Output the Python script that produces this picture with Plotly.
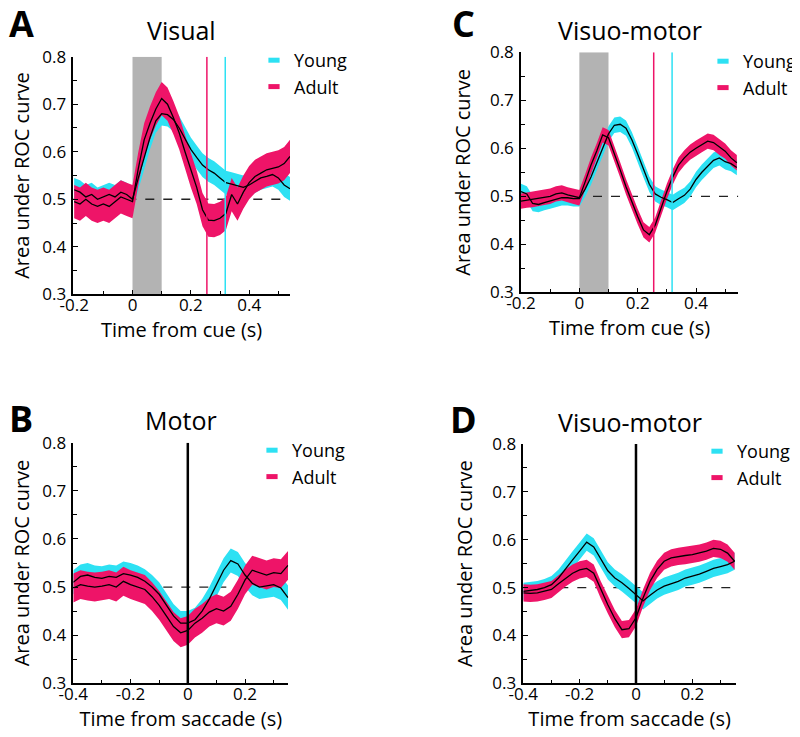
import plotly.graph_objects as go

# ---------------- data ----------------
# Panel A: Visual, aligned on cue
t_cue = [-0.20, -0.18, -0.16, -0.14, -0.12, -0.10, -0.08, -0.06, -0.04, -0.02,
         0.00, 0.02, 0.04, 0.06, 0.08, 0.10, 0.12, 0.14, 0.16, 0.18,
         0.20, 0.22, 0.24, 0.26, 0.28, 0.30, 0.32, 0.34, 0.36, 0.38,
         0.40, 0.42, 0.44, 0.46, 0.48, 0.50, 0.52, 0.54]
a_young = [0.520, 0.515, 0.505, 0.510, 0.500, 0.505, 0.510, 0.505, 0.515, 0.510,
           0.500, 0.545, 0.590, 0.630, 0.665, 0.680, 0.678, 0.668, 0.650, 0.628,
           0.605, 0.588, 0.572, 0.562, 0.555, 0.545, 0.535, 0.532, 0.528, 0.525,
           0.530, 0.538, 0.545, 0.548, 0.552, 0.545, 0.530, 0.522]
a_adult = [0.495, 0.490, 0.500, 0.490, 0.485, 0.490, 0.485, 0.495, 0.505, 0.500,
           0.495, 0.565, 0.625, 0.660, 0.690, 0.712, 0.700, 0.672, 0.640, 0.600,
           0.560, 0.525, 0.478, 0.456, 0.455, 0.460, 0.470, 0.510, 0.490, 0.515,
           0.535, 0.548, 0.555, 0.562, 0.565, 0.568, 0.575, 0.590]
a_young_sem = 0.025
a_adult_sem = 0.035

# Panel C: Visuo-motor, aligned on cue
c_young = [0.510, 0.505, 0.485, 0.483, 0.487, 0.490, 0.493, 0.497, 0.497, 0.495,
           0.495, 0.515, 0.540, 0.570, 0.600, 0.630, 0.648, 0.650, 0.642, 0.618,
           0.588, 0.555, 0.525, 0.505, 0.498, 0.493, 0.487, 0.495, 0.502, 0.515,
           0.535, 0.550, 0.563, 0.575, 0.580, 0.572, 0.568, 0.560]
c_adult = [0.490, 0.492, 0.493, 0.495, 0.498, 0.500, 0.505, 0.507, 0.503, 0.500,
           0.497, 0.530, 0.565, 0.595, 0.628, 0.622, 0.590, 0.555, 0.520, 0.488,
           0.458, 0.430, 0.420, 0.440, 0.475, 0.510, 0.540, 0.565, 0.580, 0.592,
           0.600, 0.608, 0.615, 0.612, 0.602, 0.594, 0.580, 0.570]
c_young_sem = 0.016
c_adult_sem = 0.016

# Panels B and D aligned on saccade
t_sac = [-0.400, -0.375, -0.350, -0.325, -0.300, -0.275, -0.250, -0.225, -0.200, -0.175,
         -0.150, -0.125, -0.100, -0.075, -0.050, -0.025, 0.000, 0.025, 0.050, 0.075,
         0.100, 0.125, 0.150, 0.175, 0.200, 0.225, 0.250, 0.275, 0.300, 0.325, 0.350]
b_young = [0.510, 0.522, 0.525, 0.520, 0.518, 0.522, 0.520, 0.528, 0.525, 0.520,
           0.512, 0.500, 0.485, 0.462, 0.440, 0.425, 0.425, 0.432, 0.450, 0.475,
           0.505, 0.535, 0.555, 0.548, 0.525, 0.508, 0.500, 0.502, 0.505, 0.498, 0.478]
b_adult = [0.498, 0.505, 0.502, 0.500, 0.502, 0.505, 0.500, 0.512, 0.505, 0.500,
           0.495, 0.480, 0.462, 0.440, 0.418, 0.405, 0.410, 0.425, 0.435, 0.448,
           0.455, 0.450, 0.460, 0.485, 0.515, 0.535, 0.530, 0.525, 0.530, 0.528, 0.545]
b_young_sem = 0.025
b_adult_sem = 0.030

d_young = [0.492, 0.494, 0.496, 0.500, 0.506, 0.520, 0.540, 0.558, 0.576, 0.595,
           0.585, 0.560, 0.535, 0.520, 0.510, 0.498, 0.485, 0.472, 0.484, 0.495,
           0.503, 0.508, 0.513, 0.520, 0.524, 0.528, 0.534, 0.540, 0.544, 0.548, 0.555]
d_adult = [0.489, 0.488, 0.489, 0.492, 0.496, 0.508, 0.520, 0.530, 0.537, 0.540,
           0.530, 0.495, 0.464, 0.435, 0.412, 0.414, 0.437, 0.478, 0.513, 0.538,
           0.555, 0.562, 0.565, 0.567, 0.569, 0.572, 0.576, 0.582, 0.580, 0.572, 0.555]
d_young_sem = 0.018
d_adult_sem = 0.018

chance = 0.5
cue_window = [0.0, 0.1]
thr_adult = 0.255
thr_young = 0.318

x_ticks_cue = [-0.2, 0, 0.2, 0.4]
x_ticktext_cue = ["-0.2", "0", "0.2", "0.4"]
x_ticks_sac = [-0.4, -0.2, 0, 0.2]
x_ticktext_sac = ["-0.4", "-0.2", "0", "0.2"]
y_ticks = [0.3, 0.4, 0.5, 0.6, 0.7, 0.8]
y_ticktext = ["0.3", "0.4", "0.5", "0.6", "0.7", "0.8"]

CYAN = "#2DE1F3"
MAGENTA = "#EE1468"
FONT = "Open Sans"

# the page body adds an 8px offset; lay out in window pixels and compensate
OFF = 8
W, H = 800 - OFF, 737 - OFF


def fx(px):
    return (px - OFF) / W


def fy(py):
    return 1 - (py - OFF) / H


# panel geometry in window pixels (left, right, top, bottom)
panels = {
    "A": dict(ax="", px=(73.3, 290.0, 56.7, 294.3), xr=[-0.203, 0.54], t=t_cue,
              young=a_young, adult=a_adult, ys=a_young_sem, as_=a_adult_sem,
              title="Visual", xtitle="Time from cue (s)", kind="cue", legend="legend"),
    "B": dict(ax="2", px=(73.3, 288.3, 442.7, 683.3), xr=[-0.4, 0.351], t=t_sac,
              young=b_young, adult=b_adult, ys=b_young_sem, as_=b_adult_sem,
              title="Motor", xtitle="Time from saccade (s)", kind="sac", legend="legend2"),
    "C": dict(ax="3", px=(521.0, 738.3, 52.3, 292.3), xr=[-0.2, 0.545], t=t_cue,
              young=c_young, adult=c_adult, ys=c_young_sem, as_=c_adult_sem,
              title="Visuo-motor", xtitle="Time from cue (s)", kind="cue", legend="legend3"),
    "D": dict(ax="4", px=(523.3, 736.0, 444.0, 683.3), xr=[-0.4, 0.355], t=t_sac,
              young=d_young, adult=d_adult, ys=d_young_sem, as_=d_adult_sem,
              title="Visuo-motor", xtitle="Time from saccade (s)", kind="sac", legend="legend4"),
}
legend_pos = {"legend": (254, 42), "legend2": (252, 432), "legend3": (703, 43), "legend4": (697, 433)}
letter_pos = {"A": (21, 23), "B": (21, 418), "C": (463, 24), "D": (463, 419)}
title_y = {"A": 30, "B": 420, "C": 30, "D": 422}

fig = go.Figure()
layout = dict(width=W, height=H, margin=dict(l=0, r=0, t=0, b=0, autoexpand=False),
              plot_bgcolor="white", paper_bgcolor="white",
              font=dict(family=FONT, color="black", size=17))
shapes = []
annotations = []


def band(t, m, s):
    up = [v + s for v in m]
    lo = [v - s for v in m]
    return list(t) + list(t)[::-1], up + lo[::-1]


for name, p in panels.items():
    ax = p["ax"]
    xa, ya = "x" + ax, "y" + ax
    l, r, tp, bt = p["px"]
    t = p["t"]
    # bands
    for series, sem, col in ((p["young"], p["ys"], CYAN), (p["adult"], p["as_"], MAGENTA)):
        bx, by = band(t, series, sem)
        fig.add_trace(go.Scatter(x=bx, y=by, fill="toself", fillcolor=col, mode="lines",
                                 line=dict(width=0, color=col), hoverinfo="skip",
                                 showlegend=False, xaxis=xa, yaxis=ya))
    for series in (p["young"], p["adult"]):
        fig.add_trace(go.Scatter(x=t, y=series, mode="lines", line=dict(color="black", width=1.3),
                                 showlegend=False, xaxis=xa, yaxis=ya))
    # legend keys
    for nm, col in (("Young", CYAN), ("Adult", MAGENTA)):
        fig.add_trace(go.Scatter(x=[None], y=[None], mode="markers", name=nm,
                                 marker=dict(symbol="line-ew", size=8, color=col,
                                             line=dict(width=5, color=col)),
                                 legend=p["legend"], xaxis=xa, yaxis=ya))
    lx, ly = legend_pos[p["legend"]]
    layout[p["legend"]] = dict(x=fx(lx), y=fy(ly), xanchor="left", yanchor="top",
                               bgcolor="rgba(0,0,0,0)", font=dict(size=18, family=FONT),
                               itemwidth=30, tracegroupgap=0)

    xkey = "xaxis" + ax
    ykey = "yaxis" + ax
    ticks_x = x_ticks_cue if p["kind"] == "cue" else x_ticks_sac
    text_x = x_ticktext_cue if p["kind"] == "cue" else x_ticktext_sac
    minor_x = [v / 10 for v in range(-4, 6)]
    layout[xkey] = dict(domain=[fx(l), fx(r)], anchor=ya, range=p["xr"],
                        tickmode="array", tickvals=ticks_x, ticktext=text_x,
                        ticks="inside", ticklen=5, tickwidth=1.2, tickcolor="black",
                        minor=dict(tickmode="array", tickvals=minor_x, ticks="inside",
                                   ticklen=4, tickwidth=1.2, tickcolor="black"),
                        showline=True, linecolor="black", linewidth=1.5,
                        showgrid=False, zeroline=False, tickfont=dict(size=17),
                        ticklabelstandoff=-5,
                        title=dict(text=p["xtitle"], font=dict(size=20), standoff=2))
    layout[ykey] = dict(domain=[fy(bt), fy(tp)], anchor=xa, range=[0.3, 0.8],
                        tickmode="array", tickvals=y_ticks, ticktext=y_ticktext,
                        ticks="inside", ticklen=5, tickwidth=1.2, tickcolor="black",
                        minor=dict(tickmode="array", tickvals=[0.35, 0.45, 0.55, 0.65, 0.75],
                                   ticks="inside", ticklen=4, tickwidth=1.2, tickcolor="black"),
                        showline=True, linecolor="black", linewidth=1.5,
                        showgrid=False, zeroline=False, tickfont=dict(size=17),
                        ticklabelstandoff=2,
                        title=dict(text="Area under ROC curve", font=dict(size=20), standoff=14))

    # reference shapes
    if p["kind"] == "cue":
        shapes.append(dict(type="rect", xref=xa, yref=ya, x0=cue_window[0], x1=cue_window[1],
                           y0=0.3, y1=0.8, fillcolor="#B3B3B3", line=dict(width=0), layer="below"))
    shapes.append(dict(type="line", xref=xa, yref=ya, x0=p["xr"][0], x1=p["xr"][1],
                       y0=chance, y1=chance, line=dict(color="#222222", width=1.3, dash="dash"),
                       layer="below"))
    if p["kind"] == "cue":
        shapes.append(dict(type="line", xref=xa, yref=ya, x0=thr_adult, x1=thr_adult, y0=0.3, y1=0.8,
                           line=dict(color=MAGENTA, width=1.5), layer="above"))
        shapes.append(dict(type="line", xref=xa, yref=ya, x0=thr_young, x1=thr_young, y0=0.3, y1=0.8,
                           line=dict(color=CYAN, width=1.5), layer="above"))
    else:
        shapes.append(dict(type="line", xref=xa, yref=ya, x0=0, x1=0, y0=0.3, y1=0.8,
                           line=dict(color="black", width=2.5), layer="above"))

    # title + panel letter
    annotations.append(dict(text=p["title"], x=fx((l + r) / 2), y=fy(title_y[name]),
                            xref="paper", yref="paper", showarrow=False,
                            font=dict(size=25, family=FONT), xanchor="center", yanchor="middle"))
    lx2, ly2 = letter_pos[name]
    annotations.append(dict(text="<b>%s</b>" % name, x=fx(lx2), y=fy(ly2),
                            xref="paper", yref="paper", showarrow=False,
                            font=dict(size=36, family=FONT), xanchor="center", yanchor="middle"))

layout["shapes"] = shapes
layout["annotations"] = annotations
fig.update_layout(**layout)
fig.write_html("out.html")
